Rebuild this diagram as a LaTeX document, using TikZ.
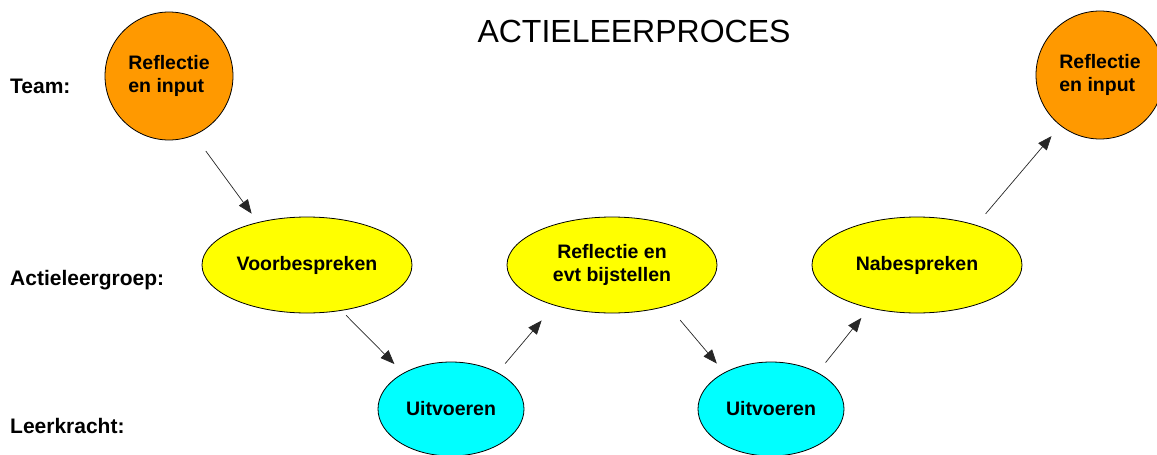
\documentclass[tikz,border=0pt]{standalone}
\usepackage{fontspec}
\setmainfont{Liberation Sans}
\usetikzlibrary{shapes.geometric,arrows.meta}
\definecolor{orng}{HTML}{FF9900}
\definecolor{yel}{HTML}{FFFF00}
\definecolor{cyn}{HTML}{00FFFF}
\begin{document}
\begin{tikzpicture}[x=1pt,y=-1pt,
 nodetxt/.style={font=\fontsize{19.5}{23}\selectfont\bfseries},
 bub/.style={draw=black, line width=0.8pt, inner sep=0pt, outer sep=0pt, nodetxt},
 teambub/.style={bub, circle, fill=orng, minimum size=128pt, align=left},
 grpbub/.style={bub, ellipse, fill=yel, minimum width=210pt, minimum height=96pt, align=center},
 lkbub/.style={bub, ellipse, fill=cyn, minimum width=146pt, minimum height=94pt},
 lvl/.style={anchor=base west, inner sep=0pt, font=\fontsize{21}{25}\selectfont\bfseries},
 arr/.style={-{Triangle[length=14pt,width=11pt]}, line width=0.7pt, draw=black!85}
]
\useasboundingbox (0,0) rectangle (1157,455);
\clip (0,0) rectangle (1157,455);

\node[anchor=base, inner sep=0pt, font=\fontsize{32}{36}\selectfont] (title) at (634,42) {ACTIELEERPROCES};

\node[lvl] (lteam) at (10,93) {Team:};
\node[lvl] (lgrp) at (10,285) {Actieleergroep:};
\node[lvl] (llk) at (10,433) {Leerkracht:};

\node[teambub] (t1) at (169,76) {Reflectie\\en input};
\node[grpbub] (v1) at (307,265) {Voorbespreken};
\node[lkbub] (u1) at (451,409) {Uitvoeren};
\node[grpbub] (r1) at (612,265) {Reflectie en\\evt bijstellen};
\node[lkbub] (u2) at (771,409) {Uitvoeren};
\node[grpbub] (n1) at (917,265) {Nabespreken};
\node[teambub] (t2) at (1100,75) {Reflectie\\en input};

\draw[arr, shorten <=20pt, shorten >=11pt] (t1.-67) -- (v1.139);
\draw[arr, shorten <=7pt, shorten >=13pt] (v1.-53) -- (u1.143);
\draw[arr, shorten <=12pt, shorten >=20pt] (u1.38) -- (r1.215);
\draw[arr, shorten <=19pt, shorten >=12pt] (r1.-36) -- (u2.142);
\draw[arr, shorten <=13pt, shorten >=13pt] (u2.38) -- (n1.222);
\draw[arr, shorten <=15pt, shorten >=14pt] (n1.34) -- (t2.232);
\end{tikzpicture}
\end{document}
